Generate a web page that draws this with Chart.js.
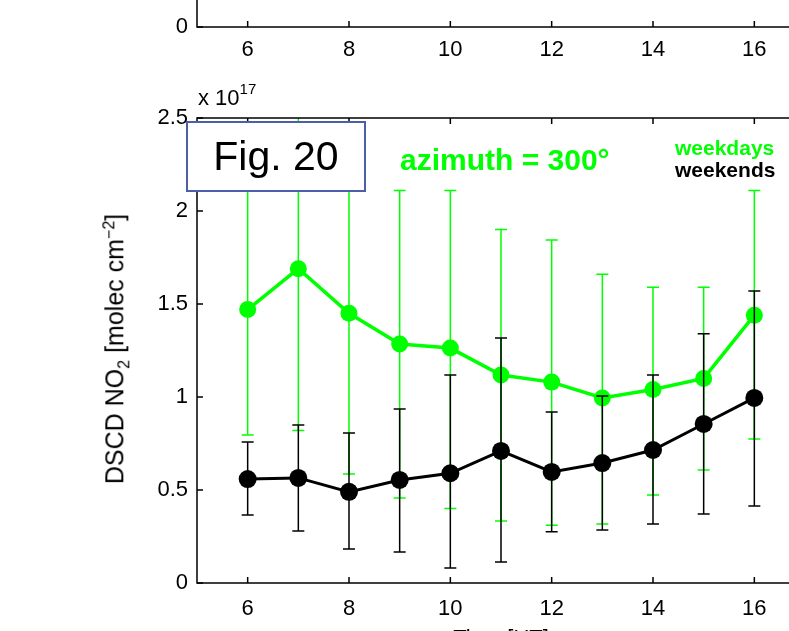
<!DOCTYPE html>
<html>
<head>
<meta charset="utf-8">
<script src="https://cdn.jsdelivr.net/npm/chart.js"></script>
<style>
  html, body { margin: 0; padding: 0; width: 789px; height: 631px; overflow: hidden; background: #fff;
    font-family: "Liberation Sans", Arial, Helvetica, sans-serif; }
  canvas { position: absolute; left: 0; }
  #topChart { top: -198px; }
  #mainChart { top: 0; }
  .lbl { position: absolute; white-space: nowrap; line-height: 1; }
  #figBox { position: absolute; left: 186px; top: 121px; width: 176px; height: 67px; border: 2px solid #4b5ea6;
    background: #fff; font-size: 41px; display: flex; align-items: center; justify-content: center; }
  #ytitle { position: absolute; left: 117px; top: 349px; transform: translate(-50%, -50%) rotate(-90deg);
    font-size: 25px; white-space: nowrap; line-height: 1; }
  #ytitle sub, #ytitle sup { font-size: 16px; }
</style>
</head>
<body>
<canvas id="topChart" width="810" height="260"></canvas>
<canvas id="mainChart" width="810" height="660"></canvas>

<div class="lbl" style="left:198px; top:84px; font-size:22px;">x 10<sup style="font-size:15px; position:relative; top:-3px;">17</sup></div>
<div id="figBox">Fig. 20</div>
<div class="lbl" style="left:400px; top:145px; font-size:30px; font-weight:bold; color:#00ff00;">azimuth = 300°</div>
<div class="lbl" style="left:675px; top:137px; font-size:21px; font-weight:bold; color:#00ff00;">weekdays</div>
<div class="lbl" style="left:675px; top:159px; font-size:21px; font-weight:bold; color:#000;">weekends</div>
<div id="ytitle">DSCD NO<sub>2</sub> [molec cm<sup>−2</sup>]</div>

<script>
// valeurs (DSCD NO2 en unités de 1e17 molec/cm2)
const heures = [6, 7, 8, 9, 10, 11, 12, 13, 14, 15, 16];

const semaine = [1.47, 1.69, 1.45, 1.285, 1.263, 1.118, 1.08, 0.995, 1.04, 1.10, 1.44];
const semaineBas = [0.796, 0.82, 0.586, 0.457, 0.40, 0.333, 0.31, 0.317, 0.473, 0.607, 0.774];
const semaineHaut = [2.15, 2.6, 2.2, 2.11, 2.11, 1.90, 1.844, 1.66, 1.59, 1.59, 2.11];

const weekend = [0.559, 0.565, 0.49, 0.554, 0.59, 0.71, 0.597, 0.645, 0.715, 0.855, 0.995];
const weekendBas = [0.366, 0.28, 0.183, 0.167, 0.08, 0.113, 0.275, 0.285, 0.317, 0.371, 0.414];
const weekendHaut = [0.758, 0.85, 0.806, 0.935, 1.118, 1.317, 0.92, 1.005, 1.118, 1.34, 1.57];

const xTicks = [6, 8, 10, 12, 14, 16];
const yTicks = [0, 0.5, 1, 1.5, 2, 2.5];
const yTicksHaut = [0];

const VERT = '#00ff00';
const police = { family: '"Liberation Sans", Arial, Helvetica, sans-serif', size: 22 };

// cadre façon matlab + petites graduations vers l'intérieur
const cadrePlugin = {
  id: 'cadre',
  afterDraw(chart) {
    const { ctx, chartArea: a, scales } = chart;
    ctx.save();
    ctx.strokeStyle = '#000';
    ctx.lineWidth = 1.5;
    ctx.strokeRect(a.left, a.top, a.right - a.left, a.bottom - a.top);
    ctx.beginPath();
    scales.x.ticks.forEach(t => {
      const px = scales.x.getPixelForValue(t.value);
      ctx.moveTo(px, a.bottom); ctx.lineTo(px, a.bottom - 6);
      ctx.moveTo(px, a.top); ctx.lineTo(px, a.top + 6);
    });
    scales.y.ticks.forEach(t => {
      const py = scales.y.getPixelForValue(t.value);
      ctx.moveTo(a.left, py); ctx.lineTo(a.left + 6, py);
      ctx.moveTo(a.right, py); ctx.lineTo(a.right - 6, py);
    });
    ctx.stroke();
    ctx.restore();
  }
};

// barres d'erreur dessinées avant chaque série
const barresErreur = {
  id: 'barresErreur',
  beforeDatasetDraw(chart, args) {
    const ds = chart.data.datasets[args.index];
    if (!ds.errBas) return;
    const { ctx, chartArea: a, scales: { x, y } } = chart;
    ctx.save();
    ctx.beginPath();
    ctx.rect(a.left, a.top, a.right - a.left, a.bottom - a.top);
    ctx.clip();
    ctx.strokeStyle = ds.borderColor;
    ctx.lineWidth = 1.5;
    ctx.beginPath();
    ds.data.forEach((p, i) => {
      const px = x.getPixelForValue(p.x);
      const bas = y.getPixelForValue(ds.errBas[i]);
      const haut = y.getPixelForValue(ds.errHaut[i]);
      ctx.moveTo(px, bas); ctx.lineTo(px, haut);
      ctx.moveTo(px - 6, bas); ctx.lineTo(px + 6, bas);
      ctx.moveTo(px - 6, haut); ctx.lineTo(px + 6, haut);
    });
    ctx.stroke();
    ctx.restore();
  }
};

function echelleX(hauteur, titre, pad) {
  return {
    type: 'linear', min: 5, max: 17,
    afterBuildTicks: s => { s.ticks = xTicks.map(v => ({ value: v })); },
    afterFit: s => { s.height = hauteur; },
    grid: { display: false, drawTicks: false },
    border: { display: false },
    ticks: { font: police, color: '#000', padding: pad, maxRotation: 0 },
    title: titre ? { display: true, text: titre, font: police, color: '#000', padding: { top: 0, bottom: 8 } } : { display: false }
  };
}

function echelleY(max, ticks) {
  return {
    type: 'linear', min: 0, max: max,
    afterBuildTicks: s => { s.ticks = ticks.map(v => ({ value: v })); },
    afterFit: s => { s.width = 197; },
    grid: { display: false, drawTicks: false },
    border: { display: false },
    ticks: { font: police, color: '#000', padding: 9, callback: v => String(v) }
  };
}

const optionsCommunes = {
  responsive: false,
  animation: false,
  devicePixelRatio: 1,
  plugins: { legend: { display: false }, tooltip: { enabled: false } }
};

// bas du graphe précédent (seul l'axe est visible)
new Chart(document.getElementById('topChart'), {
  type: 'line',
  data: { datasets: [] },
  options: {
    ...optionsCommunes,
    layout: { autoPadding: false, padding: { top: 0, right: 5, bottom: 0, left: 0 } },
    scales: { x: echelleX(35, null, 10), y: echelleY(1, yTicksHaut) }
  },
  plugins: [cadrePlugin]
});

// graphe principal
new Chart(document.getElementById('mainChart'), {
  type: 'line',
  data: {
    datasets: [
      {
        label: 'weekends',
        data: heures.map((h, i) => ({ x: h, y: weekend[i] })),
        errBas: weekendBas,
        errHaut: weekendHaut,
        borderColor: '#000',
        backgroundColor: '#000',
        borderWidth: 3,
        pointRadius: 9,
        pointBorderWidth: 0,
        pointBackgroundColor: '#000'
      },
      {
        label: 'weekdays',
        data: heures.map((h, i) => ({ x: h, y: semaine[i] })),
        errBas: semaineBas,
        errHaut: semaineHaut,
        borderColor: VERT,
        backgroundColor: VERT,
        borderWidth: 3.5,
        pointRadius: 8.5,
        pointBorderWidth: 0,
        pointBackgroundColor: VERT
      }
    ]
  },
  options: {
    ...optionsCommunes,
    layout: { autoPadding: false, padding: { top: 118, right: 5, bottom: 0, left: 0 } },
    scales: { x: echelleX(77, 'Time [UT]', 13), y: echelleY(2.5, yTicks) }
  },
  plugins: [cadrePlugin, barresErreur]
});
</script>
</body>
</html>
